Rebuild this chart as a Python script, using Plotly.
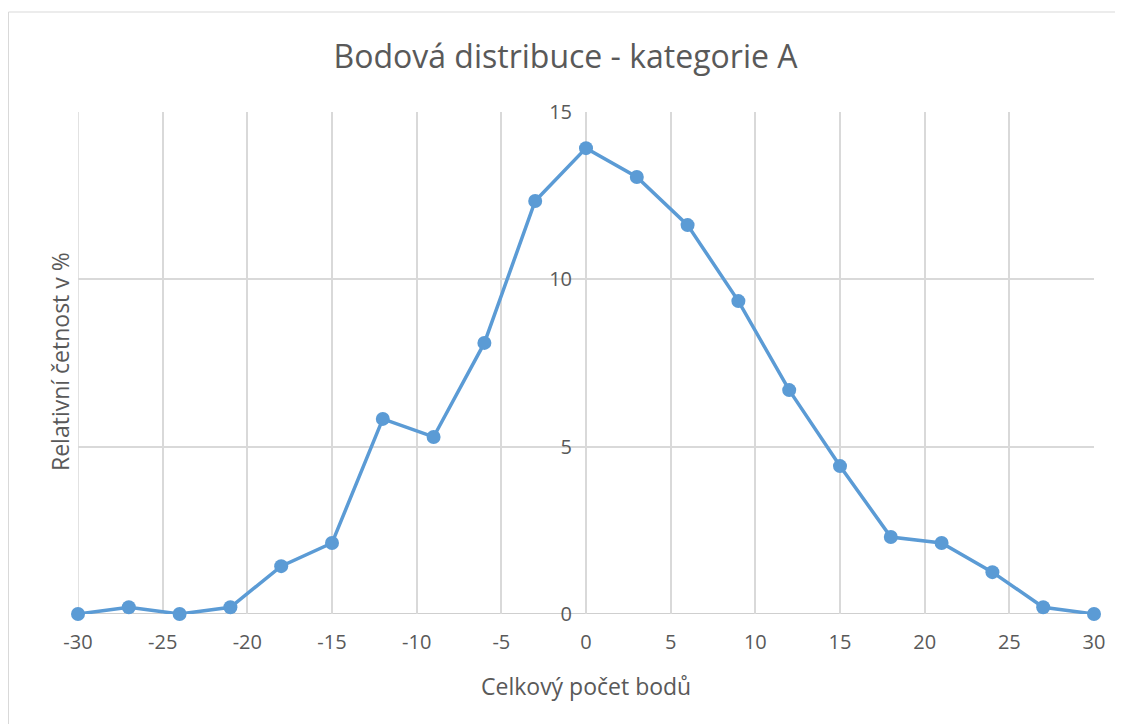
import plotly.graph_objects as go

points = [-30, -27, -24, -21, -18, -15, -12, -9, -6, -3, 0, 3, 6, 9, 12, 15, 18, 21, 24, 27, 30]
rel_freq = [0, 0.2, 0, 0.2, 1.43, 2.12, 5.83, 5.29, 8.1, 12.34, 13.92, 13.06, 11.62, 9.35,
            6.69, 4.42, 2.3, 2.12, 1.25, 0.2, 0]
x_ticks = list(range(-30, 31, 5))
y_ticks = [0, 5, 10, 15]

OFF = 8  # default body margin of the html page
W, H = 1123 - OFF, 724 - OFF
L, T = 78 - OFF, 112 - OFF
R = W - (1094 - OFF)
B = H - (614 - OFF)
pw, ph = W - L - R, H - T - B


def px_x(sx):
    return (sx - OFF - L) / pw


def px_y(sy):
    return ((H - B) - (sy - OFF)) / ph


text_color = "#595959"
grid_color = "#D9D9D9"
font = "Open Sans"

fig = go.Figure()
fig.add_trace(go.Scatter(
    x=points, y=rel_freq, mode="lines+markers",
    line=dict(color="#5B9BD5", width=3.5),
    marker=dict(color="#5B9BD5", size=14),
    showlegend=False, hoverinfo="x+y", cliponaxis=False,
))

fig.update_layout(
    width=W, height=H,
    margin=dict(l=L, r=R, t=T, b=B, autoexpand=False),
    paper_bgcolor="white", plot_bgcolor="white",
    font=dict(family=font, color=text_color, size=20),
    title=dict(text="Bodová distribuce - kategorie A", x=0.5, xanchor="center",
               y=1 - (57 - OFF) / H, yanchor="middle",
               font=dict(size=32, color=text_color, family=font)),
    xaxis=dict(
        range=[-30, 30], tickvals=x_ticks, ticktext=[str(v) for v in x_ticks],
        showgrid=True, gridcolor=grid_color, gridwidth=1.5,
        zeroline=False, showline=False, ticks="",
        tickfont=dict(size=20), domain=[0, 1], ticklabelstandoff=14,
    ),
    yaxis=dict(
        range=[0, 15], tickvals=y_ticks, ticktext=[str(v) for v in y_ticks],
        showgrid=True, gridcolor=grid_color, gridwidth=1.5,
        zeroline=False, showline=False, ticks="",
        tickfont=dict(size=20), anchor="free", position=0.5, ticklabelstandoff=14,
    ),
    shapes=[
        dict(type="line", xref="x", yref="y", x0=-30, x1=30, y0=0, y1=0,
             line=dict(color="#BFBFBF", width=1.5), layer="below"),
        dict(type="line", xref="x", yref="y", x0=0, x1=0, y0=0, y1=15,
             line=dict(color="#BFBFBF", width=1.5), layer="below"),
        dict(type="line", xref="x", yref="y", x0=-30, x1=-30, y0=0, y1=15,
             line=dict(color=grid_color, width=1.5), layer="below"),
        dict(type="rect", xref="paper", yref="paper",
             x0=px_x(OFF + 0.5), x1=px_x(1140),
             y0=px_y(740), y1=px_y(12),
             line=dict(color="#D9D9D9", width=1), layer="below"),
    ],
    annotations=[
        dict(text="Relativní četnost v %", xref="paper", yref="paper",
             x=px_x(60), y=px_y(362), textangle=-90,
             showarrow=False, xanchor="center", yanchor="middle",
             font=dict(size=23, color=text_color, family=font)),
        dict(text="Celkový počet bodů", xref="paper", yref="paper",
             x=px_x(586), y=px_y(686),
             showarrow=False, xanchor="center", yanchor="middle",
             font=dict(size=23, color=text_color, family=font)),
    ],
)

fig.write_html("out.html")
